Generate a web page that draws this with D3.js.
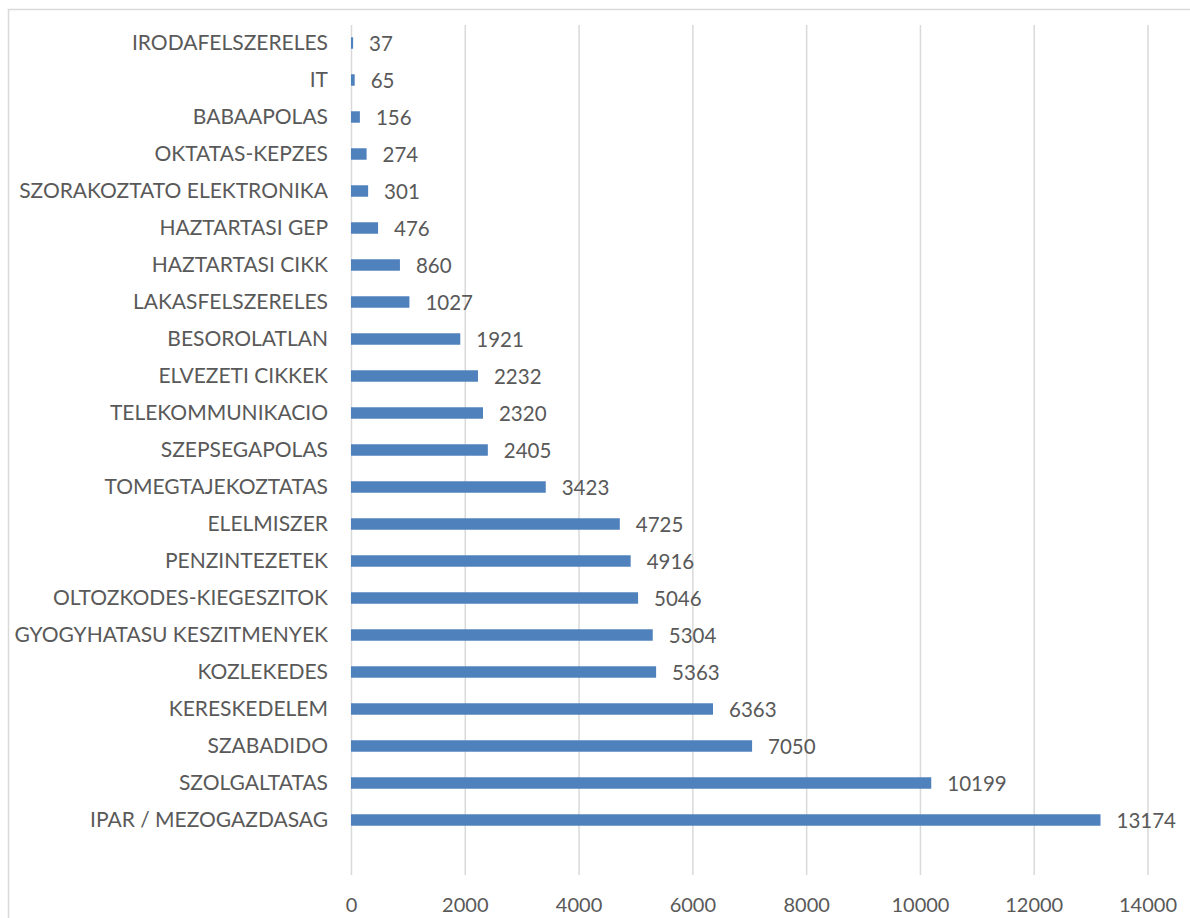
<!DOCTYPE html>
<html>
<head>
<meta charset="utf-8">
<script src="https://cdn.jsdelivr.net/npm/d3@7"></script>
<style>
  html, body { margin: 0; padding: 0; background: #fff; }
  svg { display: block; }
  text { font-family: Lato, "Open Sans", sans-serif; fill: #595959; }
</style>
</head>
<body>
<svg id="chart" width="1190" height="918"></svg>
<script>
// Categories, top to bottom
const categories = [
  "IRODAFELSZERELES", "IT", "BABAAPOLAS", "OKTATAS-KEPZES",
  "SZORAKOZTATO ELEKTRONIKA", "HAZTARTASI GEP", "HAZTARTASI CIKK",
  "LAKASFELSZERELES", "BESOROLATLAN", "ELVEZETI CIKKEK",
  "TELEKOMMUNIKACIO", "SZEPSEGAPOLAS", "TOMEGTAJEKOZTATAS",
  "ELELMISZER", "PENZINTEZETEK", "OLTOZKODES-KIEGESZITOK",
  "GYOGYHATASU KESZITMENYEK", "KOZLEKEDES", "KERESKEDELEM",
  "SZABADIDO", "SZOLGALTATAS", "IPAR / MEZOGAZDASAG"
];
const values = [
  37, 65, 156, 274, 301, 476, 860, 1027, 1921, 2232, 2320, 2405,
  3423, 4725, 4916, 5046, 5304, 5363, 6363, 7050, 10199, 13174
];
const xTicks = [0, 2000, 4000, 6000, 8000, 10000, 12000, 14000];

const svg = d3.select("#chart");

// chart frame (continues past the right and bottom edges)
svg.append("rect")
  .attr("x", 8.5).attr("y", 9.5)
  .attr("width", 1300).attr("height", 1000)
  .attr("fill", "none").attr("stroke", "#d9d9d9").attr("stroke-width", 1.5);

const x = d3.scaleLinear().domain([0, 14000]).range([351, 1147.5]);
const y = d3.scaleBand().domain(categories).range([24.5, 838.5])
  .paddingInner(0.69).paddingOuter(0.345);

const gridTop = 25, gridBottom = 875;

// vertical gridlines + tick labels via axis
const axis = d3.axisBottom(x).tickValues(xTicks)
  .tickSize(-(gridBottom - gridTop)).tickPadding(23).tickFormat(d3.format("d"));
const gAxis = svg.append("g")
  .attr("transform", `translate(0,${gridBottom})`)
  .call(axis);
gAxis.select(".domain").remove();
gAxis.selectAll(".tick line").attr("stroke", "#d9d9d9").attr("stroke-width", 1.5);
gAxis.selectAll(".tick text")
  .attr("font-size", 20).attr("fill", "#595959")
  .style("font-family", "Lato, 'Open Sans', sans-serif");

// bars
svg.append("g").selectAll("rect")
  .data(values)
  .join("rect")
  .attr("x", x(0))
  .attr("y", (d, i) => y(categories[i]))
  .attr("width", d => x(d) - x(0))
  .attr("height", y.bandwidth())
  .attr("fill", "#4f81bd");

// category labels
svg.append("g").selectAll("text")
  .data(categories)
  .join("text")
  .attr("x", 328)
  .attr("y", d => y(d) + y.bandwidth() / 2)
  .attr("dy", "0.35em")
  .attr("text-anchor", "end")
  .attr("font-size", 21)
  .text(d => d);

// value labels
svg.append("g").selectAll("text")
  .data(values)
  .join("text")
  .attr("x", d => x(d) + 16)
  .attr("y", (d, i) => y(categories[i]) + y.bandwidth() / 2)
  .attr("dy", "0.4em")
  .attr("font-size", 20.5)
  .text(d => d);
</script>
</body>
</html>
